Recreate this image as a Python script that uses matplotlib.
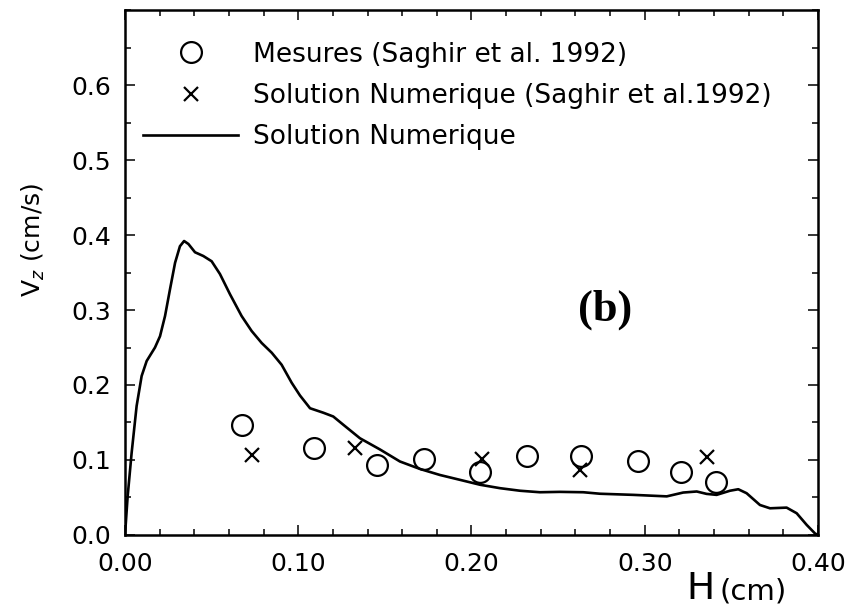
import numpy as np
import matplotlib
matplotlib.use("Agg")
import matplotlib.pyplot as plt
from matplotlib.ticker import MultipleLocator

# --- data ---
curve_h = [0.0, 0.0015, 0.0038, 0.0067, 0.0096, 0.0125, 0.0173, 0.0202, 0.0231, 0.026,
           0.0289, 0.0317, 0.0341, 0.0366, 0.0404, 0.0452, 0.050, 0.0548, 0.0606, 0.0673,
           0.0731, 0.0789, 0.0847, 0.0904, 0.0962, 0.101, 0.1068, 0.1145, 0.1202, 0.126,
           0.1356, 0.1472, 0.1587, 0.1703, 0.1818, 0.1934, 0.2049, 0.2165, 0.228, 0.2395,
           0.2510, 0.2645, 0.2742, 0.2934, 0.3127, 0.3222, 0.33, 0.3357, 0.3415, 0.3492,
           0.354, 0.3588, 0.3665, 0.3723, 0.3819, 0.3877, 0.3935, 0.3983, 0.40]
curve_v = [0.0, 0.051, 0.109, 0.172, 0.212, 0.232, 0.250, 0.265, 0.292, 0.328,
           0.363, 0.385, 0.392, 0.388, 0.377, 0.372, 0.365, 0.348, 0.321, 0.292,
           0.272, 0.256, 0.243, 0.227, 0.203, 0.186, 0.169, 0.163, 0.158, 0.147,
           0.129, 0.114, 0.098, 0.088, 0.080, 0.0735, 0.067, 0.0624, 0.059, 0.057,
           0.0575, 0.057, 0.055, 0.0535, 0.0515, 0.0566, 0.058, 0.0548, 0.0535, 0.059,
           0.061, 0.0557, 0.040, 0.0356, 0.0365, 0.029, 0.0134, 0.002, 0.0]

mes_h = [0.0674, 0.1090, 0.1457, 0.1726, 0.2049, 0.2320, 0.2632, 0.2959, 0.3209, 0.3411]
mes_v = [0.146, 0.116, 0.093, 0.101, 0.084, 0.105, 0.1056, 0.098, 0.084, 0.0713]

num_h = [0.0735, 0.1328, 0.2059, 0.2624, 0.3360]
num_v = [0.107, 0.116, 0.101, 0.087, 0.104]

labels = ["Mesures (Saghir et al. 1992)",
          "Solution Numerique (Saghir et al.1992)",
          "Solution Numerique"]

plt.rcParams['font.family'] = ['DejaVu Sans']

fig = plt.figure(figsize=(8.51, 6.15), dpi=100)
ax = fig.add_axes([0.1469, 0.1301, 0.8143, 0.8536])

ax.plot(mes_h, mes_v, 'o', ms=15, mfc='white', mec='black', mew=1.6, label=labels[0])
ax.plot(num_h, num_v, 'x', ms=10, mec='black', mew=1.6, label=labels[1])
ax.plot(curve_h, curve_v, '-', color='black', lw=1.9, label=labels[2])

ax.set_xlim(0, 0.40)
ax.set_ylim(0, 0.70)
ax.xaxis.set_major_locator(MultipleLocator(0.10))
ax.xaxis.set_minor_locator(MultipleLocator(0.02))
ax.yaxis.set_major_locator(MultipleLocator(0.1))
ax.yaxis.set_minor_locator(MultipleLocator(0.05))
ax.set_xticks([0.0, 0.1, 0.2, 0.3, 0.4])
ax.set_xticklabels(["0.00", "0.10", "0.20", "0.30", "0.40"])
ax.set_yticks([0.0, 0.1, 0.2, 0.3, 0.4, 0.5, 0.6])
ax.set_yticklabels(["0.0", "0.1", "0.2", "0.3", "0.4", "0.5", "0.6"])

ax.tick_params(which='both', direction='in', top=True, right=True, width=1.1)
ax.tick_params(which='major', length=7)
ax.tick_params(which='minor', length=4)
ax.tick_params(axis='x', which='major', labelsize=18, pad=12)
ax.tick_params(axis='y', which='major', labelsize=18, pad=10)
for s in ax.spines.values():
    s.set_linewidth(1.8)

ax.set_ylabel(r"V$_z$ (cm/s)", fontsize=18)
ax.yaxis.set_label_coords(-0.113, 0.562)

ax.text(0.83, -0.103, "H", transform=ax.transAxes, fontsize=27,
        ha='center', va='center')
ax.text(0.907, -0.108, "(cm)", transform=ax.transAxes, fontsize=21,
        ha='center', va='center')

ax.text(0.277, 0.30, "(b)", fontsize=32, fontweight='bold',
        family='Liberation Serif', ha='center', va='center')

ax.legend(loc='upper left', bbox_to_anchor=(0.026, 0.94), frameon=False,
          fontsize=19, handlelength=3.6, handletextpad=0.55, labelspacing=0.58,
          borderpad=0, borderaxespad=0)

fig.savefig("out.png", dpi=100)
